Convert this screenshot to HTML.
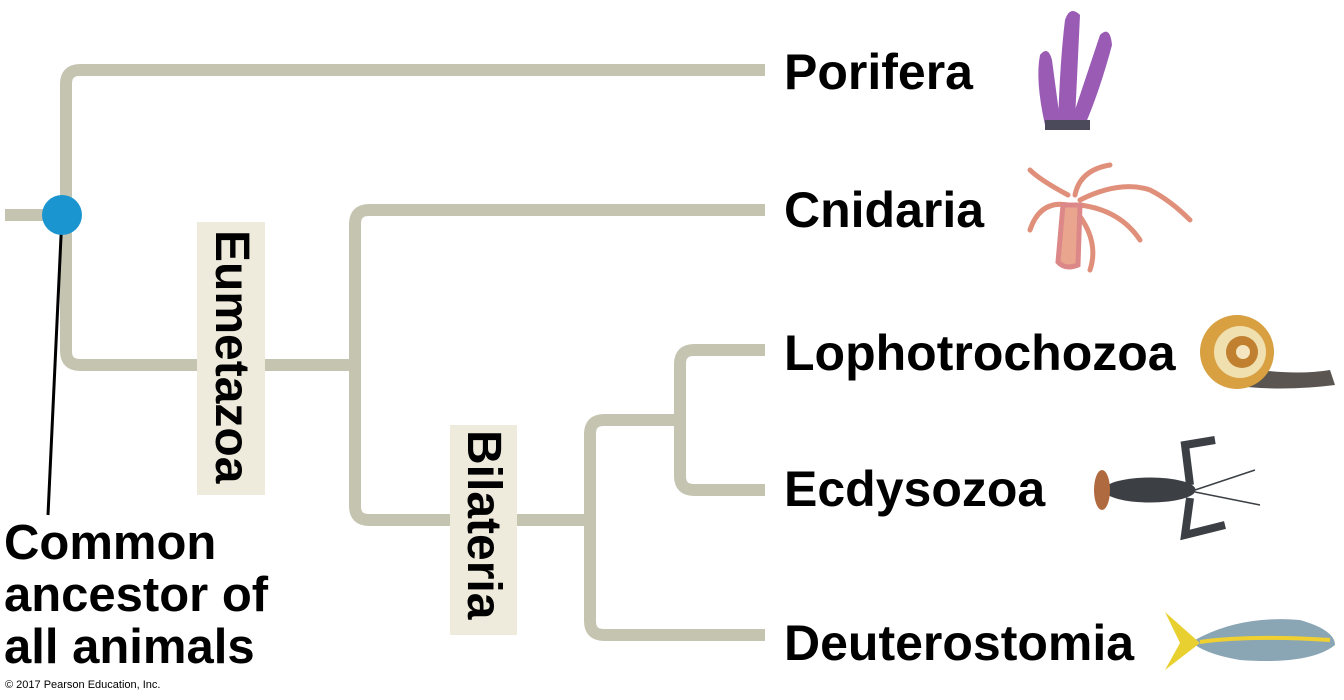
<!DOCTYPE html>
<html><head><meta charset="utf-8"><style>
html,body{margin:0;padding:0;background:#fff;width:1344px;height:700px;overflow:hidden;font-family:"Liberation Sans",Arial,sans-serif}
.lab{position:absolute;font-weight:bold;font-size:50px;color:#000;line-height:1}
.box{position:absolute;background:#eeebdc;}
.vt{position:absolute;font-weight:bold;font-size:48px;writing-mode:vertical-rl;line-height:1}
</style></head><body>
<svg width="1344" height="700" style="position:absolute;left:0;top:0">
<g fill="none" stroke="#c5c4b1" stroke-width="12" stroke-linejoin="round">
<path d="M5 215 H60"/>
<path d="M765 70 H80 Q66 70 66 84 V351 Q66 365 80 365 H355"/>
<path d="M765 210 H369 Q355 210 355 224 V506 Q355 520 369 520 H590"/>
<path d="M680 420 H604 Q590 420 590 434 V621 Q590 635 604 635 H765"/>
<path d="M765 350 H694 Q680 350 680 364 V476 Q680 490 694 490 H765"/>
</g>
<line x1="62" y1="215" x2="48" y2="515" stroke="#000" stroke-width="3"/>
<circle cx="62" cy="215" r="20" fill="#1a95d0"/>
<g fill="#9a5bb5">
<path d="M1045 125 Q1035 80 1040 55 Q1048 45 1052 60 L1060 120Z"/>
<path d="M1058 125 Q1060 60 1065 20 Q1070 5 1080 15 L1075 120Z"/>
<path d="M1070 125 Q1085 80 1100 35 Q1110 25 1112 45 Q1100 90 1085 125Z"/>
<rect x="1045" y="120" width="45" height="10" fill="#4a4a5a"/>
</g>
<g fill="none" stroke="#e0907a" stroke-width="5" stroke-linecap="round">
<path d="M1068 195 Q1040 180 1030 170"/><path d="M1075 195 Q1080 170 1110 165"/><path d="M1080 200 Q1120 180 1150 190 Q1170 200 1190 220"/><path d="M1080 205 Q1120 210 1140 240"/><path d="M1075 210 Q1100 240 1090 270"/><path d="M1068 205 Q1040 200 1030 230"/>
<path d="M1063 205 L1058 262 Q1065 270 1078 265 L1080 205Z" fill="#eaa58f" stroke="#d88"/>
</g>
<g>
<path d="M1230 385 Q1280 392 1335 385 L1330 370 Q1300 375 1260 370Z" fill="#5a5550"/>
<circle cx="1237" cy="352" r="37" fill="#d8a040"/>
<circle cx="1240" cy="352" r="26" fill="#f0e0b0"/>
<circle cx="1242" cy="352" r="16" fill="#c08030"/>
<circle cx="1243" cy="352" r="7" fill="#f3e6c0"/>
</g>
<g stroke="#3c4045" fill="#3c4045">
<ellipse cx="1150" cy="490" rx="45" ry="12"/>
<ellipse cx="1102" cy="490" rx="8" ry="20" fill="#b06a40" stroke="none"/>
<path d="M1190 485 L1185 445 L1215 440" stroke-width="8" fill="none"/>
<path d="M1190 498 L1185 535 L1225 525" stroke-width="8" fill="none"/>
<path d="M1195 490 L1255 470 M1195 492 L1260 505" stroke-width="1.5" fill="none"/>
</g>
<g>
<path d="M1195 640 Q1240 615 1300 620 Q1335 630 1335 645 Q1310 665 1240 660 Q1210 655 1195 645Z" fill="#8aa6b5"/>
<path d="M1200 642 Q1250 635 1330 640" stroke="#f0d030" stroke-width="4" fill="none"/>
<path d="M1200 643 L1165 612 L1180 643 L1165 670Z" fill="#e8d030"/>
</g>
</svg>
<div class="lab" style="left:784px;top:47px">Porifera</div>
<div class="lab" style="left:784px;top:185px">Cnidaria</div>
<div class="lab" style="left:784px;top:328px">Lophotrochozoa</div>
<div class="lab" style="left:784px;top:464px">Ecdysozoa</div>
<div class="lab" style="left:784px;top:618px">Deuterostomia</div>
<div class="box" style="left:197px;top:222px;width:68px;height:273px"></div>
<div class="vt" style="left:207px;top:230px">Eumetazoa</div>
<div class="box" style="left:450px;top:425px;width:67px;height:210px"></div>
<div class="vt" style="left:459px;top:430px">Bilateria</div>
<div class="lab" style="left:4px;top:517px;font-size:49px;line-height:52px">Common<br>ancestor of<br>all animals</div>
<div style="position:absolute;left:5px;top:679px;font-size:11px">© 2017 Pearson Education, Inc.</div>
</body></html>
